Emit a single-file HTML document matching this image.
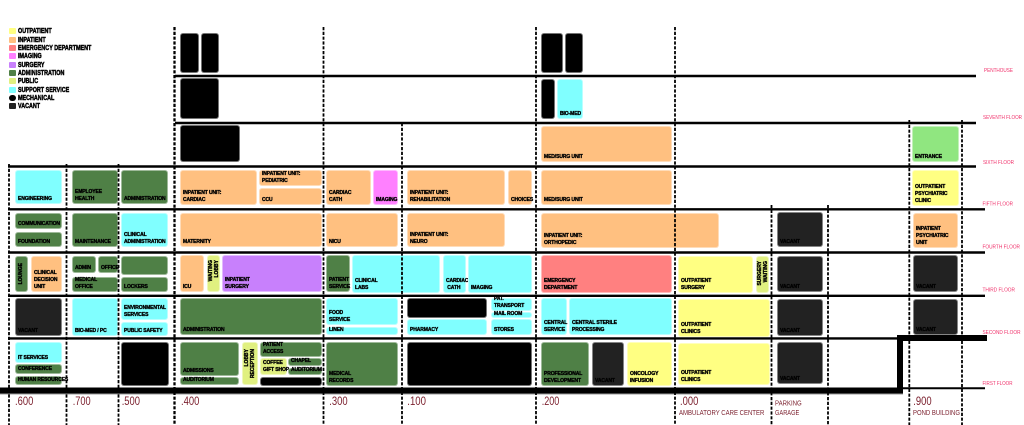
<!DOCTYPE html>
<html>
<head>
<meta charset="utf-8">
<style>
html,body{margin:0;padding:0;background:#fff;}
#c{position:relative;width:1024px;height:425px;overflow:hidden;background:#fff;font-family:"Liberation Sans",sans-serif;}
.b{position:absolute;border-radius:3px;box-sizing:border-box;border:1px solid rgba(255,255,255,.45);}
.b span{position:absolute;left:2px;bottom:0.5px;font:bold 5px/7px "Liberation Sans",sans-serif;color:#000;white-space:nowrap;letter-spacing:-0.1px;-webkit-text-stroke:0.35px #000;}
.v{position:absolute;writing-mode:vertical-rl;transform:rotate(180deg);font:bold 5px/5px "Liberation Sans",sans-serif;color:#000;white-space:nowrap;font-style:normal;-webkit-text-stroke:0.35px #000;}
.op{background:#ffff82;}
.ip{background:#ffc080;}
.ed{background:#ff8080;}
.im{background:#ff80ff;}
.su{background:#c880fc;}
.ad{background:#4f8046;}
.pu{background:#e0f080;}
.ss{background:#80ffff;}
.me{background:#000;}
.va{background:#222;}
.en{background:#90e680;}
.lg{position:absolute;left:9px;width:7px;height:6px;border-radius:1px;}
.lt{position:absolute;left:18px;font:bold 7.5px/8px "Liberation Sans",sans-serif;color:#000;transform:scaleX(.72);transform-origin:0 50%;white-space:nowrap;-webkit-text-stroke:0.5px #000;}
svg{position:absolute;left:0;top:0;}
</style>
</head>
<body>
<div id="c">

<!-- legend -->
<div class="lg op" style="top:28px"></div><div class="lt" style="top:27px">OUTPATIENT</div>
<div class="lg ip" style="top:36.5px"></div><div class="lt" style="top:35.5px">INPATIENT</div>
<div class="lg ed" style="top:45px"></div><div class="lt" style="top:44px">EMERGENCY DEPARTMENT</div>
<div class="lg im" style="top:53px"></div><div class="lt" style="top:52px">IMAGING</div>
<div class="lg su" style="top:61.5px"></div><div class="lt" style="top:60.5px">SURGERY</div>
<div class="lg ad" style="top:70px"></div><div class="lt" style="top:69px">ADMINISTRATION</div>
<div class="lg pu" style="top:78px"></div><div class="lt" style="top:77px">PUBLIC</div>
<div class="lg ss" style="top:86.5px"></div><div class="lt" style="top:85.5px">SUPPORT SERVICE</div>
<div class="lg me" style="top:95px;border-radius:3px"></div><div class="lt" style="top:94px">MECHANICAL</div>
<div class="lg va" style="top:103px"></div><div class="lt" style="top:102px">VACANT</div>

<!-- column .600 -->
<div class="b ss" style="left:15px;top:170px;width:47px;height:34px"><span>ENGINEERING</span></div>
<div class="b ad" style="left:15px;top:213px;width:47px;height:16px"><span>COMMUNICATION</span></div>
<div class="b ad" style="left:15px;top:232px;width:47px;height:15px"><span>FOUNDATION</span></div>
<div class="b ad" style="left:15px;top:256px;width:13px;height:36px"><i class="v" style="left:3px;top:6px">LOUNGE</i></div>
<div class="b ip" style="left:31px;top:256px;width:31px;height:36px"><span>CLINICAL<br>DECISION<br>UNIT</span></div>
<div class="b va" style="left:15px;top:298px;width:47px;height:38px"><span>VACANT</span></div>
<div class="b ss" style="left:15px;top:342px;width:47px;height:21px"><span>IT SERVICES</span></div>
<div class="b ad" style="left:15px;top:364px;width:47px;height:10px"><span>CONFERENCE</span></div>
<div class="b ad" style="left:15px;top:376px;width:47px;height:9px"><span>HUMAN RESOURCES</span></div>

<!-- column .700 -->
<div class="b ad" style="left:72px;top:170px;width:46px;height:34px"><span>EMPLOYEE<br>HEALTH</span></div>
<div class="b ad" style="left:72px;top:213px;width:46px;height:34px"><span>MAINTENANCE</span></div>
<div class="b ad" style="left:72px;top:256px;width:24px;height:17px"><span>ADMIN</span></div>
<div class="b ad" style="left:98px;top:256px;width:20px;height:17px"><span>OFFICE</span></div>
<div class="b ad" style="left:72px;top:277px;width:46px;height:15px"><span>MEDICAL<br>OFFICE</span></div>
<div class="b ss" style="left:72px;top:298px;width:46px;height:38px"><span>BIO-MED / PC</span></div>

<!-- column .500 -->
<div class="b ad" style="left:121px;top:170px;width:47px;height:34px"><span>ADMINISTRATION</span></div>
<div class="b ss" style="left:121px;top:213px;width:47px;height:34px"><span>CLINICAL<br>ADMINISTRATION</span></div>
<div class="b ad" style="left:121px;top:256px;width:47px;height:19px"></div>
<div class="b ad" style="left:121px;top:277px;width:47px;height:15px"><span>LOCKERS</span></div>
<div class="b ss" style="left:121px;top:298px;width:47px;height:22px"><span>ENVIRONMENTAL<br>SERVICES</span></div>
<div class="b ss" style="left:121px;top:322px;width:47px;height:14px"><span>PUBLIC SAFETY</span></div>
<div class="b me" style="left:121px;top:342px;width:48px;height:44px"></div>

<!-- column .400 -->
<div class="b me" style="left:180px;top:33px;width:19px;height:40px"></div>
<div class="b me" style="left:201px;top:33px;width:18px;height:40px"></div>
<div class="b me" style="left:180px;top:78px;width:39px;height:41px"></div>
<div class="b me" style="left:180px;top:125px;width:60px;height:37px"></div>
<div class="b ip" style="left:180px;top:170px;width:77px;height:35px"><span>INPATIENT UNIT:<br>CARDIAC</span></div>
<div class="b ip" style="left:259px;top:170px;width:63px;height:16px"><span>INPATIENT UNIT:<br>PEDIATRIC</span></div>
<div class="b ip" style="left:259px;top:188px;width:63px;height:17px"><span>CCU</span></div>
<div class="b ip" style="left:180px;top:213px;width:142px;height:34px"><span>MATERNITY</span></div>
<div class="b ip" style="left:180px;top:255px;width:24px;height:37px"><span>ICU</span></div>
<div class="b pu" style="left:207px;top:255px;width:13px;height:37px"><i class="v" style="left:1px;top:4px">WAITING</i><i class="v" style="left:7px;top:4px">LOBBY</i></div>
<div class="b su" style="left:222px;top:255px;width:100px;height:37px"><span>INPATIENT<br>SURGERY</span></div>
<div class="b ad" style="left:180px;top:298px;width:142px;height:37px"><span>ADMINISTRATION</span></div>
<div class="b ad" style="left:180px;top:342px;width:59px;height:34px"><span>ADMISSIONS</span></div>
<div class="b ad" style="left:180px;top:377px;width:59px;height:8px"><span>AUDITORIUM</span></div>
<div class="b pu" style="left:242px;top:342px;width:16px;height:43px"><i class="v" style="left:2px;top:6px">LOBBY</i><i class="v" style="left:8px;top:6px">RECEPTION</i></div>
<div class="b ad" style="left:260px;top:342px;width:62px;height:15px"><span>PATIENT<br>ACCESS</span></div>
<div class="b pu" style="left:260px;top:358px;width:27px;height:17px"><span>COFFEE<br>GIFT SHOP</span></div>
<div class="b ad" style="left:288px;top:358px;width:34px;height:8px"><span>CHAPEL</span></div>
<div class="b ad" style="left:288px;top:368px;width:34px;height:7px"><span>AUDITORIUM</span></div>
<div class="b me" style="left:260px;top:377px;width:62px;height:9px"></div>

<!-- column .300 -->
<div class="b ip" style="left:326px;top:170px;width:45px;height:35px"><span>CARDIAC<br>CATH</span></div>
<div class="b im" style="left:373px;top:170px;width:25px;height:35px"><span>IMAGING</span></div>
<div class="b ip" style="left:326px;top:213px;width:72px;height:34px"><span>NICU</span></div>
<div class="b ad" style="left:326px;top:255px;width:24px;height:37px"><span>PATIENT<br>SERVICE</span></div>
<div class="b ss" style="left:352px;top:255px;width:88px;height:38px"><span>CLINICAL<br>LABS</span></div>
<div class="b ss" style="left:326px;top:298px;width:72px;height:27px"><span>FOOD<br>SERVICE</span></div>
<div class="b ss" style="left:326px;top:327px;width:72px;height:8px"><span>LINEN</span></div>
<div class="b ad" style="left:326px;top:342px;width:72px;height:44px"><span>MEDICAL<br>RECORDS</span></div>

<!-- column .100 -->
<div class="b ip" style="left:407px;top:170px;width:98px;height:35px"><span>INPATIENT UNIT:<br>REHABILITATION</span></div>
<div class="b ip" style="left:508px;top:170px;width:24px;height:35px"><span>CHOICES</span></div>
<div class="b ip" style="left:407px;top:213px;width:98px;height:34px"><span>INPATIENT UNIT:<br>NEURO</span></div>
<div class="b ss" style="left:443px;top:255px;width:23px;height:38px"><span>CARDIAC<br>&nbsp;CATH</span></div>
<div class="b ss" style="left:468px;top:255px;width:64px;height:38px"><span>IMAGING</span></div>
<div class="b me" style="left:407px;top:298px;width:80px;height:20px"></div>
<div class="b ss" style="left:407px;top:319px;width:80px;height:16px"><span>PHARMACY</span></div>
<div class="b ss" style="left:491px;top:298px;width:41px;height:13px"><span>PAT.<br>TRANSPORT</span></div>
<div class="b ss" style="left:491px;top:312px;width:41px;height:6px"><span style="line-height:6px">MAIL ROOM</span></div>
<div class="b ss" style="left:491px;top:319px;width:41px;height:16px"><span>STORES</span></div>
<div class="b me" style="left:407px;top:342px;width:125px;height:44px"></div>

<!-- column .200 -->
<div class="b me" style="left:541px;top:33px;width:22px;height:40px"></div>
<div class="b me" style="left:565px;top:33px;width:18px;height:40px"></div>
<div class="b me" style="left:541px;top:79px;width:14px;height:40px"></div>
<div class="b ss" style="left:557px;top:79px;width:26px;height:40px"><span>BIO-MED</span></div>
<div class="b ip" style="left:541px;top:126px;width:131px;height:36px"><span>MED/SURG UNIT</span></div>
<div class="b ip" style="left:541px;top:170px;width:131px;height:35px"><span>MED/SURG UNIT</span></div>
<div class="b ip" style="left:541px;top:213px;width:178px;height:35px"><span>INPATIENT UNIT:<br>ORTHOPEDIC</span></div>
<div class="b ed" style="left:541px;top:255px;width:131px;height:38px"><span>EMERGENCY<br>DEPARTMENT</span></div>
<div class="b ss" style="left:541px;top:298px;width:26px;height:37px"><span>CENTRAL<br>SERVICE</span></div>
<div class="b ss" style="left:569px;top:298px;width:103px;height:37px"><span>CENTRAL STERILE<br>PROCESSING</span></div>
<div class="b ad" style="left:541px;top:342px;width:48px;height:44px"><span>PROFESSIONAL<br>DEVELOPMENT</span></div>
<div class="b va" style="left:592px;top:342px;width:32px;height:44px"><span>VACANT</span></div>
<div class="b op" style="left:627px;top:342px;width:45px;height:44px"><span>ONCOLOGY<br>INFUSION</span></div>

<!-- column .000 -->
<div class="b op" style="left:678px;top:256px;width:75px;height:37px"><span>OUTPATIENT<br>SURGERY</span></div>
<div class="b pu" style="left:756px;top:256px;width:13px;height:37px"><i class="v" style="left:1px;top:4px">SURGERY</i><i class="v" style="left:7px;top:4px">WAITING</i></div>
<div class="b op" style="left:678px;top:299px;width:92px;height:38px"><span>OUTPATIENT<br>CLINICS</span></div>
<div class="b op" style="left:678px;top:343px;width:92px;height:42px"><span>OUTPATIENT<br>CLINICS</span></div>

<!-- parking -->
<div class="b va" style="left:777px;top:212px;width:46px;height:35px"><span>VACANT</span></div>
<div class="b va" style="left:777px;top:256px;width:46px;height:36px"><span>VACANT</span></div>
<div class="b va" style="left:777px;top:299px;width:46px;height:37px"><span>VACANT</span></div>
<div class="b va" style="left:777px;top:342px;width:46px;height:42px"><span>VACANT</span></div>

<!-- pond -->
<div class="b en" style="left:912px;top:126px;width:47px;height:36px"><span>ENTRANCE</span></div>
<div class="b op" style="left:912px;top:170px;width:47px;height:36px"><span>OUTPATIENT<br>PSYCHIATRIC<br>CLINIC</span></div>
<div class="b ip" style="left:913px;top:213px;width:45px;height:35px"><span>INPATIENT<br>PSYCHIATRIC<br>UNIT</span></div>
<div class="b va" style="left:913px;top:255px;width:45px;height:37px"><span>VACANT</span></div>
<div class="b va" style="left:913px;top:299px;width:45px;height:36px"><span>VACANT</span></div>

<svg width="1024" height="425" viewBox="0 0 1024 425">
 <g stroke="#000" stroke-width="2.4">
  <line x1="175" y1="76" x2="976" y2="76"/>
  <line x1="175" y1="123" x2="976" y2="123"/>
  <line x1="8" y1="166.5" x2="976" y2="166.5"/>
  <line x1="8" y1="209.3" x2="985" y2="209.3"/>
  <line x1="8" y1="252.5" x2="985" y2="252.5"/>
  <line x1="8" y1="295.8" x2="985" y2="295.8"/>
  <line x1="8" y1="338.4" x2="898" y2="338.4"/>
  <line x1="903" y1="388.3" x2="985" y2="388.3" stroke-width="2"/>
 </g>
 <g fill="#000">
  <rect x="0" y="387.5" width="903" height="6"/>
  <rect x="897" y="335" width="6" height="58.5"/>
  <rect x="897" y="335" width="90" height="6"/>
 </g>
 <rect x="0" y="393.5" width="903" height="1" fill="#999"/>
 <g stroke="#000" stroke-width="1.8" stroke-dasharray="3.2,1.6" fill="none">
  <line x1="9" y1="164" x2="9" y2="425"/>
  <line x1="66.5" y1="164" x2="66.5" y2="425"/>
  <line x1="118.5" y1="164" x2="118.5" y2="425"/>
  <line x1="174.5" y1="27" x2="174.5" y2="425" stroke-width="2.3"/>
  <line x1="323.5" y1="27" x2="323.5" y2="425"/>
  <line x1="402" y1="123" x2="402" y2="425"/>
  <line x1="536" y1="27" x2="536" y2="425"/>
  <line x1="675" y1="27" x2="675" y2="425"/>
  <line x1="771.5" y1="205" x2="771.5" y2="425"/>
  <line x1="828" y1="205" x2="828" y2="425"/>
  <line x1="909.3" y1="120" x2="909.3" y2="425"/>
  <line x1="962" y1="120" x2="962" y2="425"/>
 </g>
 <g fill="#f0306a" font-family="Liberation Sans, sans-serif" font-size="5.8">
  <text x="984" y="72" textLength="29" lengthAdjust="spacingAndGlyphs">PENTHOUSE</text>
  <text x="983" y="119" textLength="39" lengthAdjust="spacingAndGlyphs">SEVENTH FLOOR</text>
  <text x="983" y="164" textLength="31" lengthAdjust="spacingAndGlyphs">SIXTH FLOOR</text>
  <text x="982.5" y="205.5" textLength="30.5" lengthAdjust="spacingAndGlyphs">FIFTH FLOOR</text>
  <text x="982.5" y="248.3" textLength="37.5" lengthAdjust="spacingAndGlyphs">FOURTH FLOOR</text>
  <text x="982.5" y="291.3" textLength="32.5" lengthAdjust="spacingAndGlyphs">THIRD FLOOR</text>
  <text x="982.5" y="334" textLength="38" lengthAdjust="spacingAndGlyphs">SECOND FLOOR</text>
  <text x="982.5" y="385" textLength="30" lengthAdjust="spacingAndGlyphs">FIRST FLOOR</text>
 </g>
 <g fill="#7a1e2c" font-family="Liberation Sans, sans-serif" font-size="11.5">
  <text x="15" y="405" textLength="18.3" lengthAdjust="spacingAndGlyphs">.600</text>
  <text x="72.7" y="405" textLength="18" lengthAdjust="spacingAndGlyphs">.700</text>
  <text x="121.7" y="405" textLength="18.3" lengthAdjust="spacingAndGlyphs">.500</text>
  <text x="181" y="405" textLength="18.3" lengthAdjust="spacingAndGlyphs">.400</text>
  <text x="329.3" y="405" textLength="18.4" lengthAdjust="spacingAndGlyphs">.300</text>
  <text x="407.3" y="405" textLength="18.7" lengthAdjust="spacingAndGlyphs">.100</text>
  <text x="541.7" y="405" textLength="17.6" lengthAdjust="spacingAndGlyphs">.200</text>
  <text x="680" y="405" textLength="18.3" lengthAdjust="spacingAndGlyphs">.000</text>
  <text x="913.3" y="405" textLength="18.4" lengthAdjust="spacingAndGlyphs">.900</text>
 </g>
 <g fill="#7a1e2c" font-family="Liberation Sans, sans-serif" font-size="7.3">
  <text x="679" y="415.2" textLength="85.3" lengthAdjust="spacingAndGlyphs">AMBULATORY CARE CENTER</text>
  <text x="775" y="405.3" textLength="26.7" lengthAdjust="spacingAndGlyphs">PARKING</text>
  <text x="775" y="415.2" textLength="24.3" lengthAdjust="spacingAndGlyphs">GARAGE</text>
  <text x="913" y="415.2" textLength="47" lengthAdjust="spacingAndGlyphs">POND BUILDING</text>
 </g>
</svg>
</div>
</body>
</html>
